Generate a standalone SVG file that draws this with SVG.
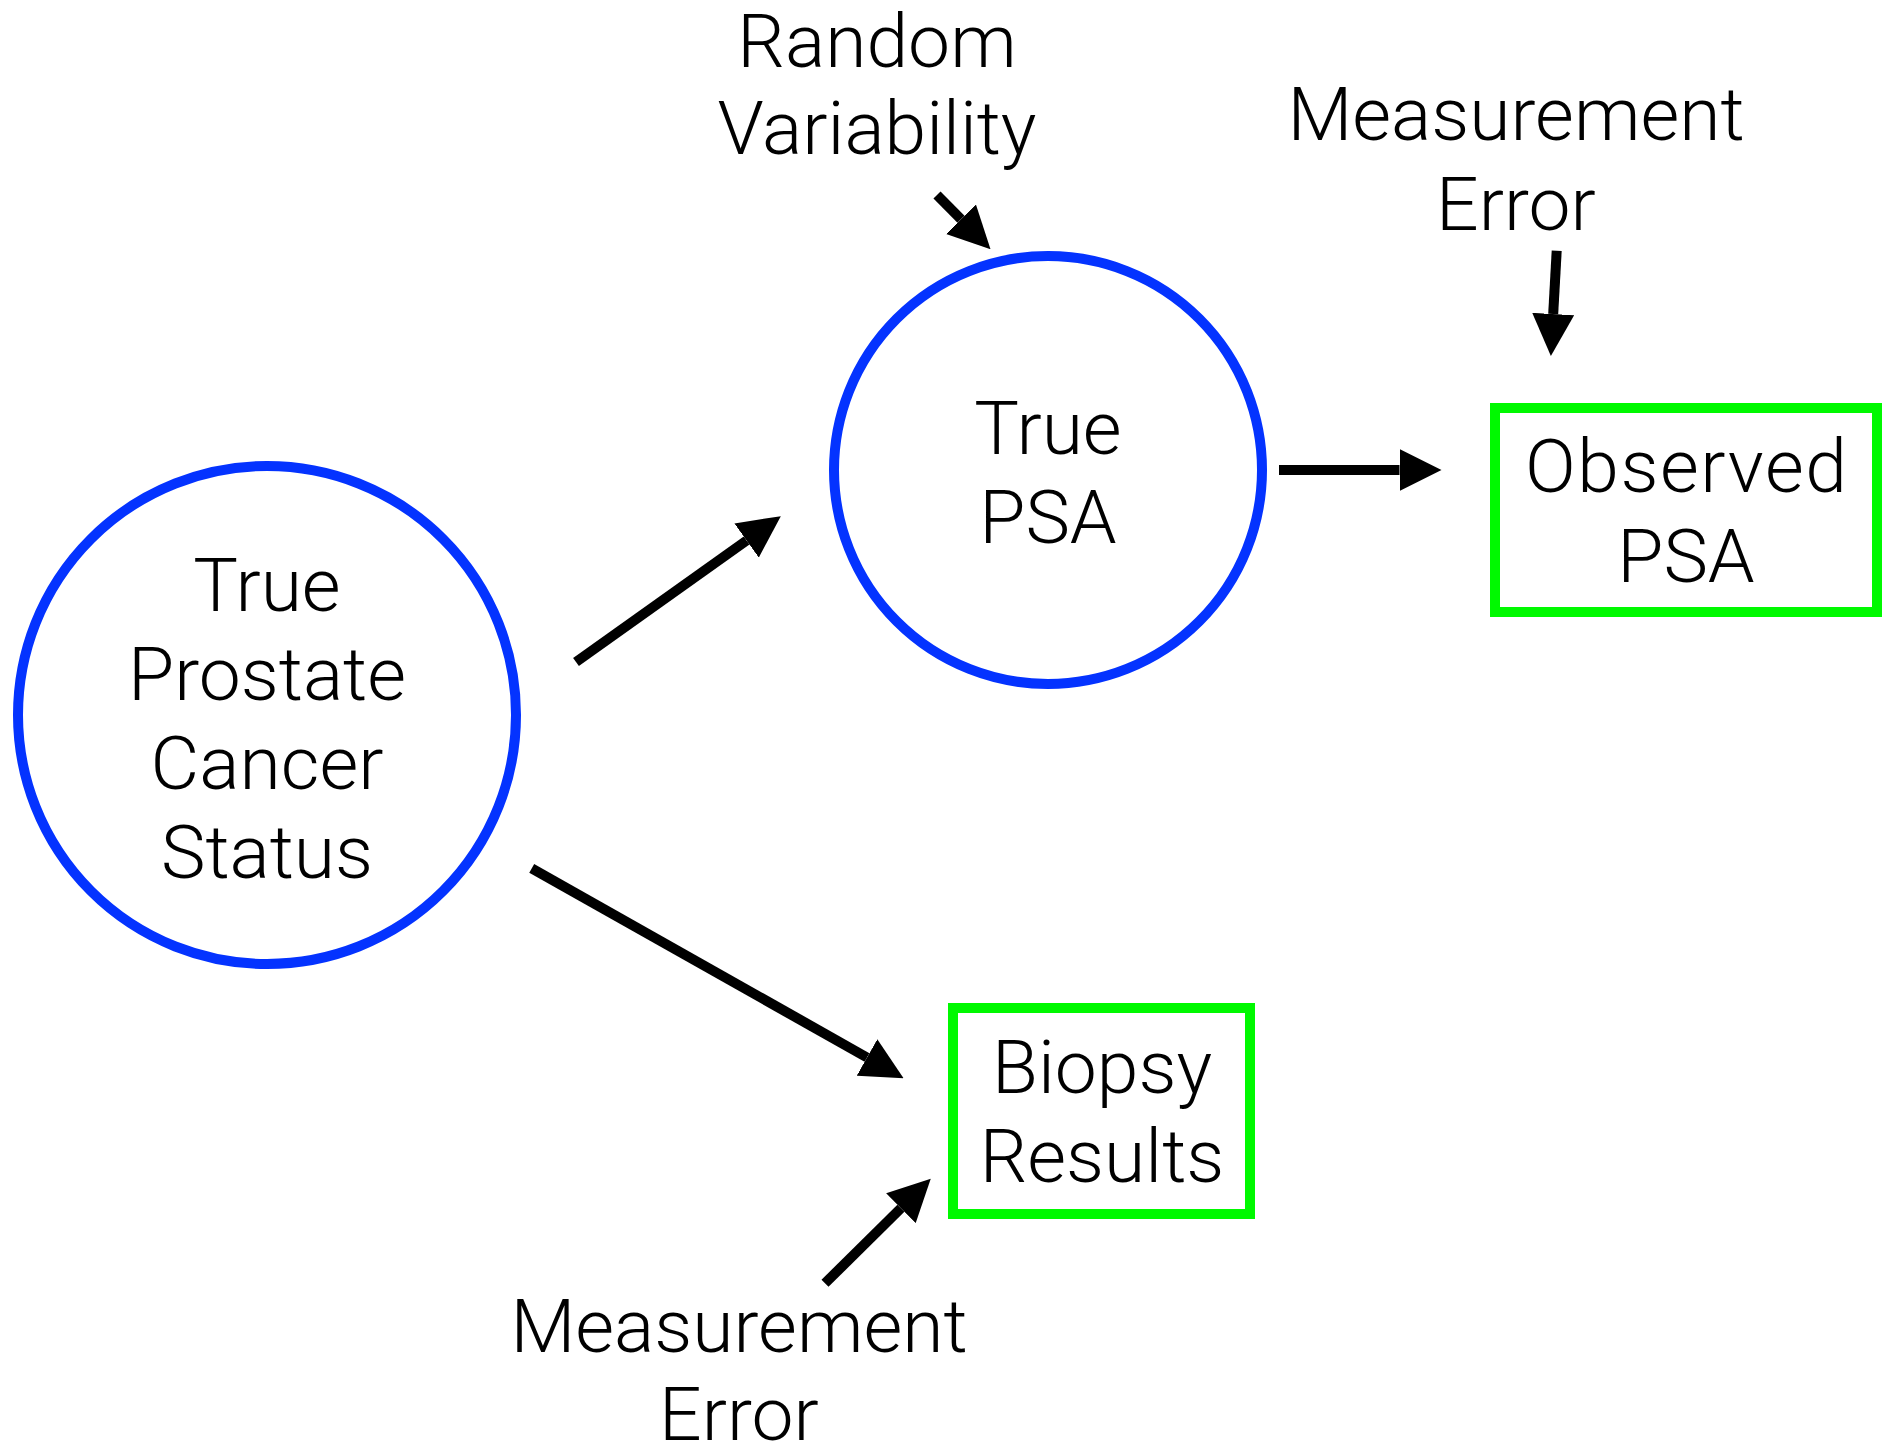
<svg xmlns="http://www.w3.org/2000/svg" width="1885" height="1448" viewBox="0 0 1885 1448">
  <style>
    .bg { fill: #ffffff; }
    .latent { fill: none; stroke: #0433FF; stroke-width: 10; }
    .observed { fill: none; stroke: #00F900; stroke-width: 10; }
    .lbl { font-family: Roboto, "Liberation Sans", "DejaVu Sans", sans-serif; font-weight: 300; font-size: 75px; fill: #000000; text-anchor: middle; }
    .edge { stroke: #000000; stroke-width: 10; fill: none; marker-end: url(#head); }
  </style>
  <defs>
    <marker id="head" markerUnits="userSpaceOnUse" markerWidth="42" markerHeight="42" viewBox="0 0 41 41" refX="0" refY="20.5" orient="auto">
      <path d="M0,0 L41,20.5 L0,41 Z" fill="#000000"/>
    </marker>
  </defs>
  <rect class="bg" x="0" y="0" width="1885" height="1448"/>

  <g id="node-true-cancer">
    <circle class="latent" cx="267" cy="715" r="249"/>
    <text class="lbl" x="267" y="611">True</text>
    <text class="lbl" x="267" y="700">Prostate</text>
    <text class="lbl" x="267" y="789">Cancer</text>
    <text class="lbl" x="267" y="878">Status</text>
  </g>

  <g id="node-true-psa">
    <circle class="latent" cx="1048" cy="470" r="214"/>
    <text class="lbl" x="1048" y="454">True</text>
    <text class="lbl" x="1048" y="543">PSA</text>
  </g>

  <g id="node-observed-psa">
    <rect class="observed" x="1495" y="408" width="382" height="204"/>
    <text class="lbl" x="1686" y="492" textLength="322" lengthAdjust="spacing">Observed</text>
    <text class="lbl" x="1686" y="582">PSA</text>
  </g>

  <g id="node-biopsy">
    <rect class="observed" x="953" y="1008" width="297" height="206"/>
    <text class="lbl" x="1102" y="1093">Biopsy</text>
    <text class="lbl" x="1102" y="1182">Results</text>
  </g>

  <g id="node-random-variability">
    <text class="lbl" x="877" y="67">Random</text>
    <text class="lbl" x="877" y="154">Variability</text>
  </g>

  <g id="node-measurement-error-psa">
    <text class="lbl" x="1516" y="140">Measurement</text>
    <text class="lbl" x="1516" y="230">Error</text>
  </g>

  <g id="node-measurement-error-biopsy">
    <text class="lbl" x="739" y="1352">Measurement</text>
    <text class="lbl" x="739" y="1440">Error</text>
  </g>

  <g id="connectors">
    <line class="edge" x1="937" y1="195" x2="961" y2="219.3"/>
    <line class="edge" x1="1556.7" y1="250.7" x2="1553.2" y2="314"/>
    <line class="edge" x1="1279" y1="470" x2="1399.5" y2="470"/>
    <line class="edge" x1="576" y1="662" x2="746.6" y2="540.5"/>
    <line class="edge" x1="531.7" y1="868.3" x2="867" y2="1057.5"/>
    <line class="edge" x1="825" y1="1283.3" x2="900.9" y2="1208.2"/>
  </g>
</svg>
